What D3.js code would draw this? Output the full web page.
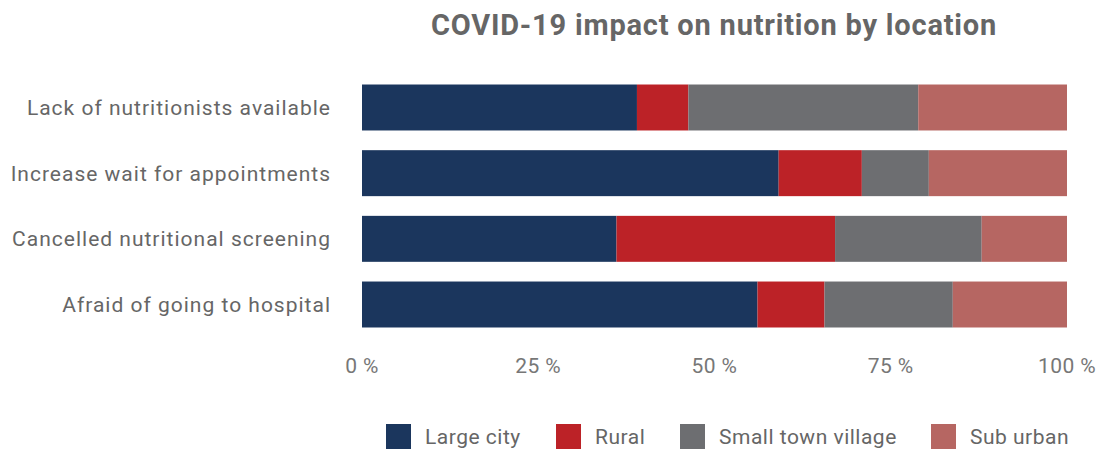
<!DOCTYPE html>
<html>
<head>
<meta charset="utf-8">
<script src="https://cdn.jsdelivr.net/npm/d3@7"></script>
<style>
  body { margin: 0; background: #fff; }
  svg text { font-family: Roboto, "Noto Sans", sans-serif; }
</style>
</head>
<body>
<svg id="chart" width="1101" height="450"></svg>
<script>
// categories top to bottom
const categories = [
    "Lack of nutritionists available",
    "Increase wait for appointments",
    "Cancelled nutritional screening",
    "Afraid of going to hospital"
];
const seriesNames = ["Large city", "Rural", "Small town village", "Sub urban"];
const largeCity = [39.0, 59.1, 36.1, 56.1];
const rural = [7.3, 11.8, 31.0, 9.5];
const smallTown = [32.6, 9.5, 20.8, 18.2];
const subUrban = [21.1, 19.6, 12.1, 16.2];
const tickValues = [0, 25, 50, 75, 100];
const colors = ["#1b365d", "#bc2227", "#6d6e71", "#b66662"];

const svg = d3.select("#chart");
const margin = {top: 74, left: 362, right: 34};
const width = 1101 - margin.left - margin.right;

const rows = categories.map((c, i) => ({
    cat: c,
    "Large city": largeCity[i],
    "Rural": rural[i],
    "Small town village": smallTown[i],
    "Sub urban": subUrban[i]
}));

const stack = d3.stack().keys(seriesNames)(rows);

const x = d3.scaleLinear().domain([0, 100]).range([margin.left, margin.left + width]);
const y = d3.scaleBand().domain(categories).range([margin.top, 338]).paddingInner(0.3).paddingOuter(0.16);
const color = d3.scaleOrdinal().domain(seriesNames).range(colors);

// title
svg.append("text")
    .attr("x", 714).attr("y", 35)
    .attr("text-anchor", "middle")
    .style("font-size", "29px").style("font-weight", "bold")
    .style("letter-spacing", "0.8px")
    .style("fill", "#666")
    .text("COVID-19 impact on nutrition by location");

// bars
svg.append("g").selectAll("g")
    .data(stack)
    .join("g")
    .attr("fill", d => color(d.key))
    .selectAll("rect")
    .data(d => d)
    .join("rect")
    .attr("x", d => x(d[0]))
    .attr("y", d => y(d.data.cat))
    .attr("width", d => x(d[1]) - x(d[0]))
    .attr("height", y.bandwidth());

// category labels
svg.append("g").selectAll("text")
    .data(categories)
    .join("text")
    .attr("x", 331)
    .attr("y", d => y(d) + y.bandwidth() / 2)
    .attr("dy", "0.35em")
    .attr("text-anchor", "end")
    .style("font-size", "21px")
    .style("letter-spacing", "1px")
    .style("fill", "#666")
    .text(d => d);

// x axis tick labels (no line)
svg.append("g").selectAll("text")
    .data(tickValues)
    .join("text")
    .attr("x", d => x(d))
    .attr("y", 373)
    .attr("text-anchor", "middle")
    .style("font-size", "21px")
    .style("letter-spacing", "0.4px")
    .style("fill", "#777")
    .text(d => d + " %");

// legend
const legendX = [386, 556, 680, 931];
const legend = svg.append("g").selectAll("g")
    .data(seriesNames)
    .join("g")
    .attr("transform", (d, i) => `translate(${legendX[i]}, 424)`);
legend.append("rect")
    .attr("width", 25).attr("height", 25)
    .attr("fill", d => color(d));
legend.append("text")
    .attr("x", 39).attr("y", 12.5)
    .attr("dy", "0.35em")
    .style("font-size", "21px")
    .style("letter-spacing", "0.5px")
    .style("fill", "#666")
    .text(d => d);
</script>
</body>
</html>
